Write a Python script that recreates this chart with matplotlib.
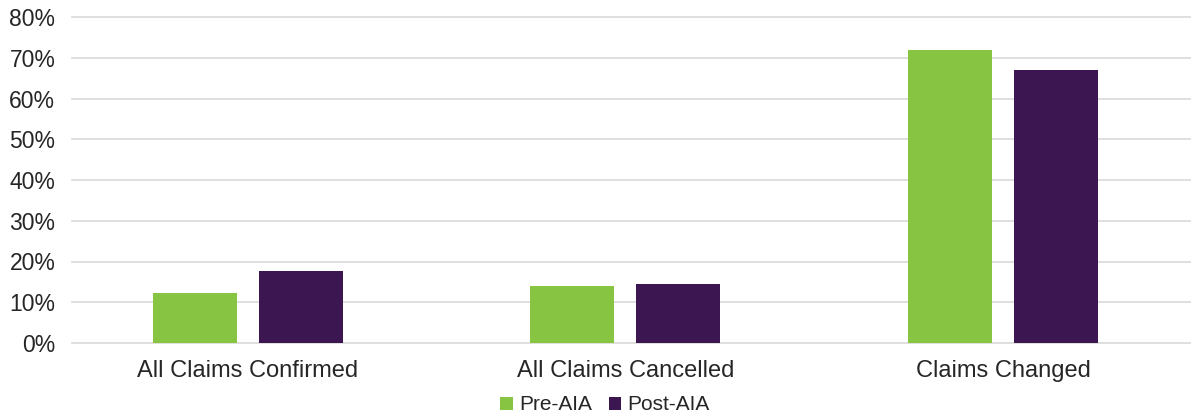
import matplotlib
matplotlib.use("Agg")
import matplotlib.pyplot as plt
import numpy as np
from matplotlib.ticker import FuncFormatter

plt.rcParams['font.family'] = ['Liberation Sans', 'DejaVu Sans']

categories = ["All Claims Confirmed", "All Claims Cancelled", "Claims Changed"]
pre_aia = [12.2, 13.9, 72.0]
post_aia = [17.6, 14.4, 67.1]
series_names = ["Pre-AIA", "Post-AIA"]
colors = ["#86C441", "#3B1650"]
text_color = "#262626"

fig = plt.figure(figsize=(11.91, 4.17), dpi=100)
W, H = 1191, 417
left, right = 72, 1191
top, bottom = 17, 343
ax = fig.add_axes([left / W, 1 - bottom / H, (right - left) / W, (bottom - top) / H])

x = np.arange(len(categories))
bw = 0.2225
off = 0.1404
ax.bar(x - off, pre_aia, bw, color=colors[0], label=series_names[0], zorder=3)
ax.bar(x + off, post_aia, bw, color=colors[1], label=series_names[1], zorder=3)

ax.set_xlim(-0.466, 2.498)
ax.set_ylim(0, 80)
ax.set_yticks(np.arange(0, 81, 10))
ax.yaxis.set_major_formatter(FuncFormatter(lambda v, p: f"{int(v)}%"))
ax.grid(axis='y', color='#d9d9d9', linewidth=1.2, zorder=0)
for gl in ax.get_ygridlines():
    gl.set_clip_on(False)
ax.set_axisbelow(True)
for s in ax.spines.values():
    s.set_visible(False)
ax.tick_params(axis='both', length=0, colors=text_color)
ax.tick_params(axis='y', pad=12, labelsize=16.5)
ax.tick_params(axis='x', pad=12, labelsize=17)
ax.set_xticks(x)
ax.set_xticklabels(categories)

leg = fig.legend(loc='center', bbox_to_anchor=(605 / W, 1 - 405 / H), ncol=2, frameon=False,
                 fontsize=15, handlelength=0.6, handleheight=0.6, handletextpad=0.3,
                 columnspacing=0.8, labelcolor=text_color)

fig.savefig("out.png", dpi=100)
